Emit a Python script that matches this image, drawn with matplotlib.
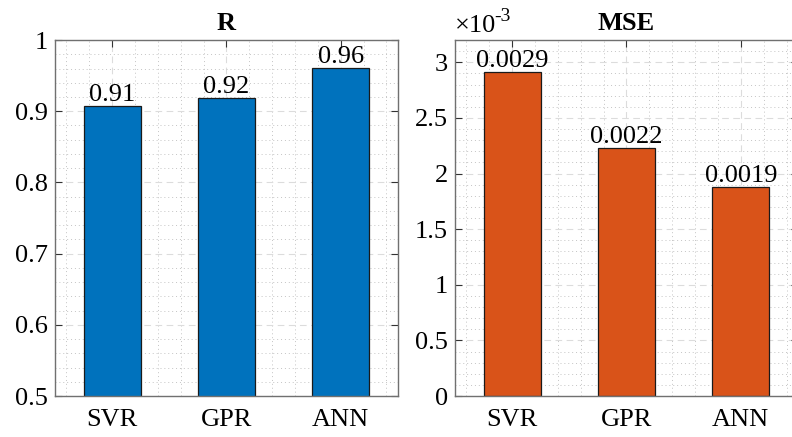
import numpy as np
import matplotlib.pyplot as plt
from matplotlib.ticker import MultipleLocator, FuncFormatter

# Data
models = ["SVR", "GPR", "ANN"]
r_values = [0.908, 0.918, 0.961]
mse_values = [0.00291, 0.00223, 0.00188]
r_labels = ["0.91", "0.92", "0.96"]
mse_labels = ["0.0029", "0.0022", "0.0019"]

plt.rcParams['font.family'] = ['Liberation Serif', 'DejaVu Serif']

FS = 19

fig = plt.figure(figsize=(7.92, 4.37), dpi=100)
ax1 = fig.add_axes([0.0694, 0.0938, 0.433, 0.8146])
ax2 = fig.add_axes([0.5745, 0.0938, 0.433, 0.8146])

x = np.arange(1, len(models) + 1)


def style_axes(ax):
    ax.set_axisbelow(True)
    ax.grid(True, which='major', color='#dcdcdc', linestyle=(0, (6, 4)), linewidth=0.8)
    ax.grid(True, which='minor', color='#c4c4c4', linestyle=(0, (1, 3)), linewidth=0.7)
    ax.xaxis.set_minor_locator(MultipleLocator(0.2))
    ax.tick_params(which='major', direction='in', length=5, width=0.8, color='#333333',
                   top=True, right=True, labelsize=FS, pad=5)
    ax.tick_params(which='minor', length=0, top=True, right=True)
    ax.tick_params(axis='x', pad=9)
    for s in ax.spines.values():
        s.set_color('#707070')
        s.set_linewidth(1.0)
    ax.set_xlim(0.5, 3.5)
    ax.set_xticks(x)
    ax.set_xticklabels(models)


# R panel
bars1 = ax1.bar(x, r_values, width=0.5, color='#0072BD', edgecolor='#1a1a1a', linewidth=0.9)
style_axes(ax1)
ax1.set_ylim(0.5, 1.0)
ax1.yaxis.set_major_locator(MultipleLocator(0.1))
ax1.yaxis.set_minor_locator(MultipleLocator(0.02))
ax1.yaxis.set_major_formatter(FuncFormatter(lambda v, p: f"{v:g}"))
ax1.bar_label(bars1, labels=r_labels, padding=0, fontsize=FS)
ax1.set_title("R", fontsize=FS, fontweight='bold', pad=7)

# MSE panel
bars2 = ax2.bar(x, mse_values, width=0.5, color='#D95319', edgecolor='#1a1a1a', linewidth=0.9)
style_axes(ax2)
ax2.set_ylim(0, 0.0032)
ax2.yaxis.set_major_locator(MultipleLocator(0.0005))
ax2.yaxis.set_minor_locator(MultipleLocator(0.0001))
ax2.yaxis.set_major_formatter(FuncFormatter(lambda v, p: f"{v * 1e3:g}"))
ax2.bar_label(bars2, labels=mse_labels, padding=0, fontsize=FS)
ax2.set_title("MSE", fontsize=FS, fontweight='bold', pad=7)

# exponent label in MATLAB style
ax2.annotate("×10", xy=(0, 1), xycoords='axes fraction', xytext=(0, 2),
             textcoords='offset points', fontsize=FS, ha='left', va='bottom')
ax2.annotate("-3", xy=(0, 1), xycoords='axes fraction', xytext=(28.5, 11),
             textcoords='offset points', fontsize=14, ha='left', va='bottom')

fig.savefig("out.png", dpi=100)
